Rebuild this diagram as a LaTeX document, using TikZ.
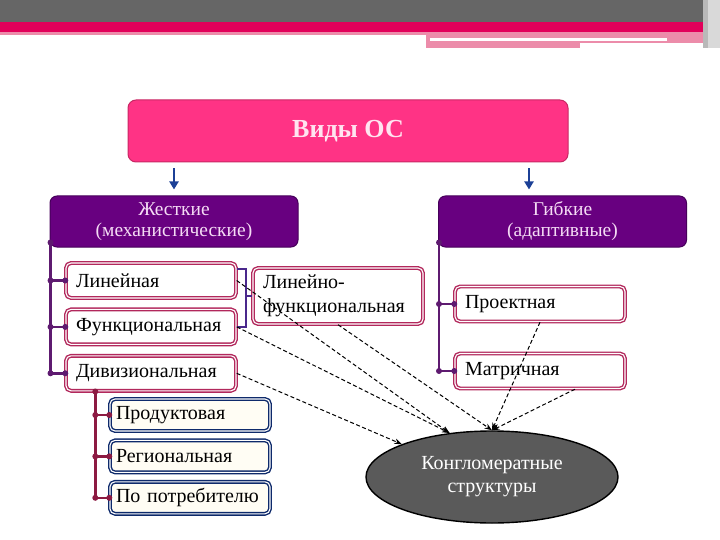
\documentclass[tikz,border=0pt]{standalone}
\usepackage{fontspec}
\setmainfont{Liberation Serif}
\usetikzlibrary{arrows.meta,calc,positioning,shapes.geometric}

\definecolor{topgray}{RGB}{102,102,102}
\definecolor{toppink}{RGB}{226,0,90}
\definecolor{paleink}{RGB}{236,140,170}
\definecolor{headpink}{RGB}{255,51,133}
\definecolor{headrim}{RGB}{200,40,100}
\definecolor{headtext}{RGB}{255,228,240}
\definecolor{kindpurple}{RGB}{104,0,128}
\definecolor{kindrim}{RGB}{70,0,90}
\definecolor{kindtext}{RGB}{245,220,245}
\definecolor{treepurple}{RGB}{94,26,112}
\definecolor{sortred}{RGB}{178,40,92}
\definecolor{bracepurple}{RGB}{74,40,140}
\definecolor{branchred}{RGB}{140,26,66}
\definecolor{divnavy}{RGB}{14,42,107}
\definecolor{divcream}{RGB}{255,253,244}
\definecolor{arrowblue}{RGB}{28,64,150}
\definecolor{conggray}{RGB}{90,90,90}

\begin{document}
\begin{tikzpicture}[x=1pt,y=-1pt,>=Stealth,node distance=10pt,
  head/.style={draw=headrim,fill=headpink,line width=1pt,rounded corners=8pt,
    minimum width=440pt,minimum height=62pt,text=headtext,
    font=\bfseries\fontsize{26}{30}\selectfont},
  kind/.style={draw=kindrim,fill=kindpurple,line width=1pt,rounded corners=7pt,
    minimum width=248pt,minimum height=51pt,align=center,text=kindtext,
    font=\fontsize{19.5}{21}\selectfont},
  sort/.style={draw=sortred,double=white,double distance=1.1pt,line width=1.4pt,
    rounded corners=5pt,fill=white,text width=150pt,inner xsep=10pt,align=left,
    minimum height=35pt,text=black,font=\fontsize{20}{24}\selectfont},
  divsort/.style={sort,draw=divnavy,fill=divcream,text width=148pt,inner xsep=6pt,
    minimum height=32pt},
  tree/.style={line width=2.6pt,draw=treepurple},
  knot/.style={circle,fill=treepurple,inner sep=0pt,minimum size=6pt},
  branch/.style={line width=2.6pt,draw=branchred},
  bud/.style={circle,fill=branchred,inner sep=0pt,minimum size=6pt},
  brace/.style={line width=2pt,draw=bracepurple},
  down/.style={-{Triangle[width=9pt,length=8pt]},line width=2.4pt,draw=arrowblue},
  mix/.style={->,dash pattern=on 4pt off 2.5pt,line width=1pt,draw=black},
]
\useasboundingbox (0,0) rectangle (720,540);

% top band
\fill[topgray] (0,0) rectangle (705,22);
\fill[toppink] (0,22) rectangle (705,32);
\fill[paleink] (0,32) rectangle (705,35);
\fill[paleink] (426,35) rectangle (705,43);
\fill[white] (430,38) rectangle (667,41);
\fill[paleink] (426,43) rectangle (580,48);
\fill[gray!55] (703,0) rectangle (708,48);
\fill[gray!30] (708,0) rectangle (720,48);

% boxes
\node[head] (types) at (348,131) {Виды ОС};
\node[kind] (hard) at (174,221.5) {Жесткие\\(механистические)};
\node[kind] (soft) at (562.5,221.5) {Гибкие\\(адаптивные)};

\node[sort] (lin) at (151,280.5) {Линейная};
\node[sort,below=of lin] (fun) {Функциональная};
\node[sort,below=of fun] (divis) {Дивизиональная};
\node[sort,minimum height=56pt] (linfun) at (338,296) {Линейно-\\функциональная};

\node[sort] (proj) at (540,304) {Проектная};
\node[sort] (matr) at (540,371) {Матричная};

\node[divsort] (prod) at (190,415) {Продуктовая};
\node[divsort,below=8pt of prod] (reg) {Региональная};
\node[divsort,below=8pt of reg] (cons) {По потребителю};

\node[ellipse,draw=black,line width=1.4pt,fill=conggray,minimum width=252pt,
  minimum height=92pt,align=center,text=white,
  font=\fontsize{20}{23}\selectfont] (cong) at (492,477) {Конгломератные\\структуры};

% arrows from the top box
\draw[down] ($(types.south -| hard.north)+(0,6)$) -- ($(hard.north)+(0,-6)$);
\draw[down] ($(types.south -| soft.north)+(-33.5,6)$) -- ($(soft.north)+(-33.5,-6)$);

% trees
\draw[tree] ([shift={(1pt,5pt)}]hard.south west) coordinate (ht) node[knot]{}
  -- (ht |- divis.west) node[knot]{} -- (divis.west) node[knot]{};
\draw[tree] (ht |- lin.west) node[knot]{} -- (lin.west) node[knot]{};
\draw[tree] (ht |- fun.west) node[knot]{} -- (fun.west) node[knot]{};

\draw[tree] ([shift={(1pt,5pt)}]soft.south west) coordinate (st) node[knot]{}
  -- (st |- matr.west) node[knot]{} -- (matr.west) node[knot]{};
\draw[tree] (st |- proj.west) node[knot]{} -- (proj.west) node[knot]{};

\draw[brace] ([yshift=-7pt]lin.north east) -- ++(9,0) coordinate (bk)
  -- (bk |- fun.east) -- (fun.east);
\draw[brace] (bk |- linfun.west) -- (linfun.west);

\draw[branch] ([xshift=30pt]divis.south west) coordinate (dt) node[bud]{}
  -- (dt |- cons.west) node[bud]{} -- (cons.west) node[bud]{};
\draw[branch] (dt |- prod.west) node[bud]{} -- (prod.west) node[bud]{};
\draw[branch] (dt |- reg.west) node[bud]{} -- (reg.west) node[bud]{};

% dashed links to the ellipse
\draw[mix] (lin.east) -- (cong.134);
\draw[mix] (fun.east) -- (cong.134);
\draw[mix] (divis.east) -- (cong.160);
\draw[mix] (linfun.south) -- (cong.north);
\draw[mix] (proj.south) -- (cong.north);
\draw[mix] ([xshift=35pt]matr.south) -- (cong.north);
\end{tikzpicture}
\end{document}
